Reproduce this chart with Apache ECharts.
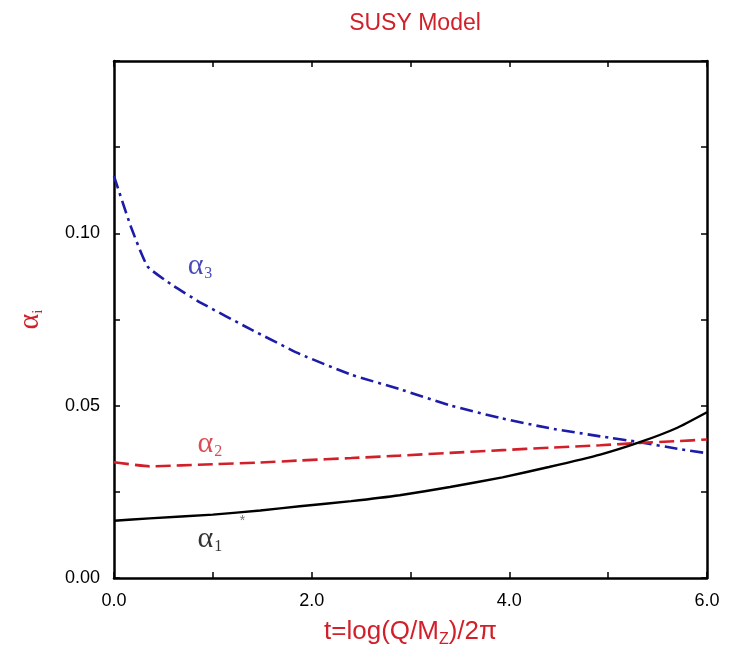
<!DOCTYPE html>
<html>
<head>
<meta charset="utf-8">
<script src="https://cdn.jsdelivr.net/npm/echarts@6/dist/echarts.min.js"></script>
<style>
  html, body { margin: 0; padding: 0; background: #fff; }
  #chart { width: 731px; height: 645px; }
</style>
</head>
<body>
<div id="chart"></div>
<script>
// Running gauge couplings in the SUSY model, t = log(Q/M_Z)/2π
const tAlpha3 = [0.0, 0.17, 0.34, 0.6, 0.87, 1.38, 1.88, 2.4, 2.89, 3.4, 3.91, 4.4, 4.92, 5.32, 5.7, 6.0];
const alpha3  = [0.1166, 0.1020, 0.0904, 0.0848, 0.0800, 0.0722, 0.0650, 0.0590, 0.0548, 0.0501, 0.0464, 0.0435, 0.0411, 0.0394, 0.0375, 0.0362];

const tAlpha2 = [0.0, 0.36, 1.0, 1.48, 1.88, 2.4, 2.89, 3.4, 3.93, 4.4, 4.92, 5.32, 5.7, 6.0];
const alpha2  = [0.0336, 0.0324, 0.0330, 0.0335, 0.0341, 0.0348, 0.0355, 0.0363, 0.0371, 0.0378, 0.0385, 0.0392, 0.0397, 0.0402];

const tAlpha1 = [0.0, 0.36, 1.0, 1.48, 1.88, 2.4, 2.89, 3.4, 3.93, 4.4, 4.92, 5.32, 5.7, 6.0];
const alpha1  = [0.0166, 0.0173, 0.0184, 0.0196, 0.0208, 0.0223, 0.0240, 0.0264, 0.0292, 0.0322, 0.0358, 0.0394, 0.0436, 0.0481];

// Curve annotations [t, alpha]
const label3Pos = [0.87, 0.0904];
const label2Pos = [0.97, 0.0387];
const label1Pos = [0.97, 0.0112];
const starPos   = [1.30, 0.0165];

const RED = '#d2202a';
const BLUE = '#1c1ca8';

const pairs = (xs, ys) => xs.map((x, i) => [x, ys[i]]);

const chart = echarts.init(document.getElementById('chart'));

const tickStyle = { show: true, inside: true, length: 6, lineStyle: { color: '#000', width: 1.5 } };
const lineAxis = { show: true, onZero: false, lineStyle: { color: '#000', width: 2.5 } };

function greekLabel(pos, sub, color) {
  return {
    type: 'scatter',
    data: [pos],
    symbolSize: 0,
    silent: true,
    z: 5,
    label: {
      show: true,
      position: 'inside',
      formatter: '{a|α}{s|' + sub + '}',
      rich: {
        a: { fontFamily: 'Liberation Serif', fontSize: 30, color: color, lineHeight: 30 },
        s: { fontFamily: 'Liberation Serif', fontSize: 16, color: color, verticalAlign: 'bottom', lineHeight: 12, padding: [14, 0, 0, 1] }
      }
    }
  };
}

chart.setOption({
  backgroundColor: '#fff',
  animation: false,
  title: {
    text: 'SUSY Model',
    left: 410,
    textAlign: 'center',
    top: 7,
    textStyle: { color: RED, fontFamily: 'Liberation Sans', fontSize: 23, fontWeight: 'normal' }
  },
  grid: { left: 114, right: 24, top: 61, bottom: 67, containLabel: false, outerBoundsMode: 'none' },
  xAxis: [
    {
      type: 'value', min: 0, max: 6, interval: 1, position: 'bottom',
      axisLine: lineAxis, axisTick: tickStyle, splitLine: { show: false },
      axisLabel: {
        color: '#000', fontFamily: 'Liberation Sans', fontSize: 18, margin: 14,
        formatter: v => (Math.round(v) % 2 === 0 ? v.toFixed(1) : '')
      },
      name: 't=log(Q/M{z|Z})/2π',
      nameLocation: 'middle', nameGap: 38,
      nameTextStyle: {
        color: RED, fontFamily: 'Liberation Sans', fontSize: 26,
        rich: { z: { color: RED, fontFamily: 'Liberation Sans', fontSize: 16, verticalAlign: 'bottom', padding: [16, 0, 0, 0] } }
      }
    },
    {
      type: 'value', min: 0, max: 6, interval: 1, position: 'top',
      axisLine: lineAxis, axisTick: tickStyle, axisLabel: { show: false }, splitLine: { show: false }
    }
  ],
  yAxis: [
    {
      type: 'value', min: 0, max: 0.15, interval: 0.025, position: 'left',
      axisLine: lineAxis, axisTick: tickStyle, splitLine: { show: false },
      axisLabel: {
        color: '#000', fontFamily: 'Liberation Sans', fontSize: 18, margin: 14,
        formatter: v => {
          const m = Math.round(v * 1000);
          return (m % 50 === 0 && m < 150) ? v.toFixed(2) : '';
        }
      },
      name: 'α{i|i}',
      nameLocation: 'middle', nameGap: 68, nameRotate: 90,
      nameTextStyle: {
        color: RED, fontFamily: 'Liberation Serif', fontSize: 30,
        rich: { i: { color: RED, fontFamily: 'Liberation Serif', fontSize: 15, verticalAlign: 'bottom', padding: [16, 0, 0, 0] } }
      }
    },
    {
      type: 'value', min: 0, max: 0.15, interval: 0.025, position: 'right',
      axisLine: lineAxis, axisTick: tickStyle, axisLabel: { show: false }, splitLine: { show: false }
    }
  ],
  series: [
    {
      name: 'alpha3', type: 'line', data: pairs(tAlpha3, alpha3),
      smooth: 0.15, showSymbol: false, silent: true,
      lineStyle: { color: BLUE, width: 2.6, type: [13, 5, 3, 5] }
    },
    {
      name: 'alpha2', type: 'line', data: pairs(tAlpha2, alpha2),
      smooth: 0.15, showSymbol: false, silent: true,
      lineStyle: { color: RED, width: 2.6, type: [15, 6] }
    },
    {
      name: 'alpha1', type: 'line', data: pairs(tAlpha1, alpha1),
      smooth: 0.15, showSymbol: false, silent: true,
      lineStyle: { color: '#000', width: 2.4 }
    },
    // empty series so the mirrored top/right axes are laid out
    { type: 'line', xAxisIndex: 1, yAxisIndex: 1, data: [], silent: true },
    greekLabel(label3Pos, '3', BLUE),
    greekLabel(label2Pos, '2', RED),
    greekLabel(label1Pos, '1', '#000'),
    {
      type: 'scatter', data: [starPos], symbolSize: 0, silent: true,
      label: { show: true, position: 'inside', formatter: '*', color: '#555', fontSize: 14, fontFamily: 'Liberation Sans' }
    }
  ]
});
</script>
</body>
</html>
